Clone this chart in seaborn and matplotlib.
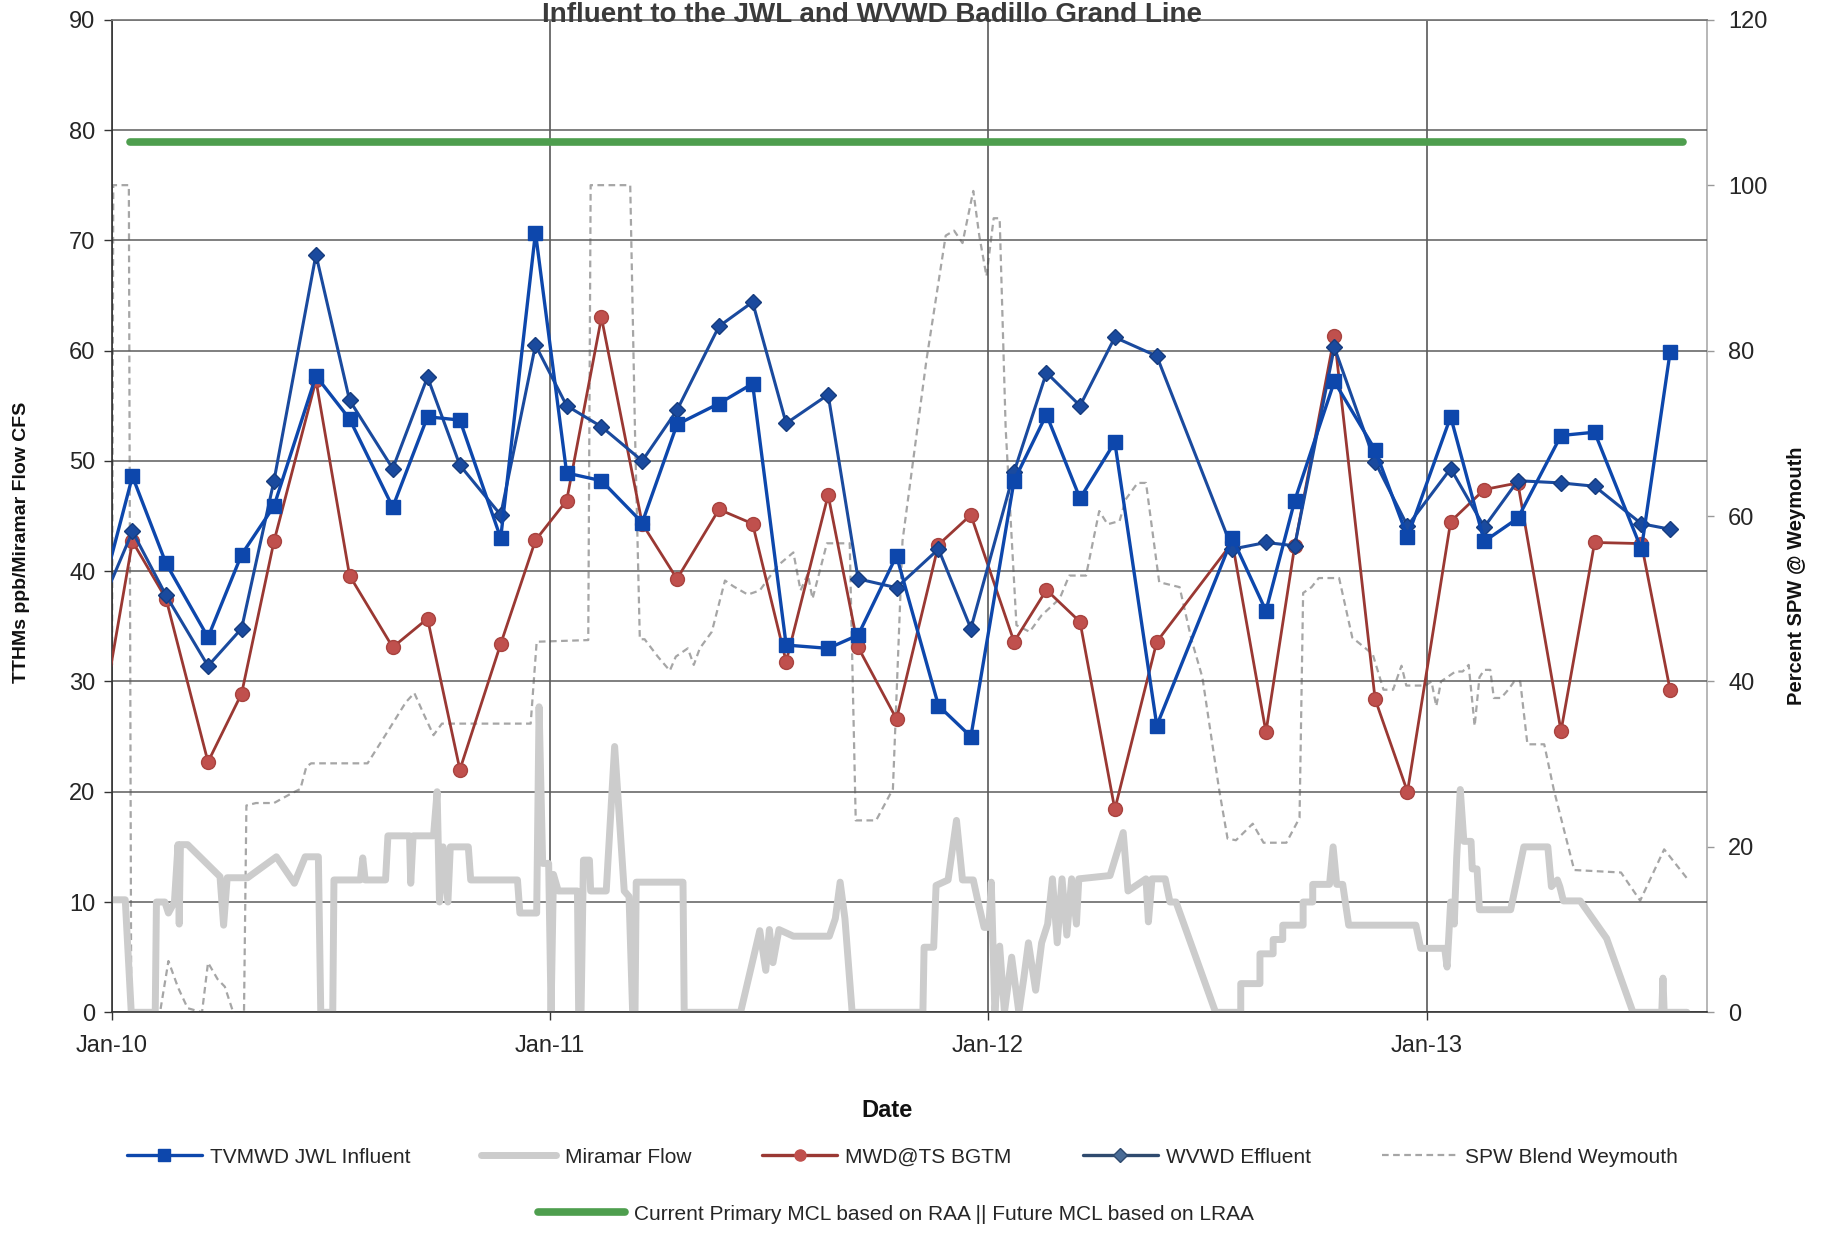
import numpy as np
import pandas as pd
import matplotlib
matplotlib.use("Agg")
import matplotlib.pyplot as plt
import matplotlib.dates as mdates
from matplotlib.lines import Line2D
import seaborn as sns

# ---------------- data ----------------
sample_dates = ["2009-12-17", "2010-01-18", "2010-02-15", "2010-03-22", "2010-04-19", "2010-05-16",
                "2010-06-20", "2010-07-18", "2010-08-23", "2010-09-21", "2010-10-18", "2010-11-21",
                "2010-12-20", "2011-01-15", "2011-02-13", "2011-03-19", "2011-04-17", "2011-05-22",
                "2011-06-19", "2011-07-17", "2011-08-21", "2011-09-15", "2011-10-17", "2011-11-21",
                "2011-12-18", "2012-01-23", "2012-02-19", "2012-03-18", "2012-04-16", "2012-05-21",
                "2012-07-23", "2012-08-20", "2012-09-13", "2012-10-16", "2012-11-19", "2012-12-16",
                "2013-01-21", "2013-02-18", "2013-03-18", "2013-04-23", "2013-05-21", "2013-06-29",
                "2013-07-23"]

tvmwd_jwl = [35.3, 48.6, 40.7, 34.0, 41.5, 45.9, 57.7, 53.8, 45.8, 54.0, 53.7, 43.0,
             70.7, 48.9, 48.2, 44.4, 53.3, 55.2, 57.0, 33.3, 33.0, 34.2, 41.4, 27.8,
             25.0, 48.2, 54.2, 46.6, 51.7, 26.0, 43.0, 36.4, 46.4, 57.2, 51.0, 43.1,
             54.0, 42.7, 44.8, 52.3, 52.6, 42.0, 59.9]

wvwd_eff = [35.4, 43.6, 37.8, 31.4, 34.8, 48.2, 68.7, 55.5, 49.3, 57.6, 49.6, 45.1,
            60.5, 55.0, 53.1, 50.0, 54.6, 62.2, 64.4, 53.4, 56.0, 39.3, 38.5, 42.0,
            34.8, 49.0, 58.0, 55.0, 61.2, 59.5, 42.0, 42.6, 42.3, 60.3, 49.9, 44.1,
            49.3, 44.0, 48.2, 48.0, 47.7, 44.3, 43.8]

mwd_ts = [22.6, 42.7, 37.5, 22.7, 28.9, 42.7, 57.3, 39.6, 33.1, 35.7, 22.0, 33.4,
          42.8, 46.4, 63.0, 44.3, 39.3, 45.6, 44.3, 31.8, 46.9, 33.1, 26.6, 42.4,
          45.1, 33.6, 38.3, 35.4, 18.4, 33.6, 42.6, 25.4, 42.3, 61.3, 28.4, 20.0,
          44.5, 47.4, 48.0, 25.5, 42.6, 42.5, 29.2]

# Miramar Flow (CFS): day offset from 2010-01-01 and value
miramar_day = [-20, 11, 16, 36, 37, 44, 47, 52, 55, 56, 57, 63, 90, 93, 96, 113, 137, 152, 161, 172,
               174, 184, 185, 207, 209, 211, 228, 230, 248, 249, 251, 268, 271, 273, 276, 280, 282, 297, 299, 338,
               340, 354, 356, 359, 364, 366, 368, 372, 388, 389, 391, 393, 398, 399, 412, 419, 427, 431, 434, 436,
               437, 476, 477, 524, 540, 545, 548, 551, 556, 568, 598, 603, 607, 611, 617, 676, 677, 685, 687, 697,
               704, 709, 718, 722, 727, 731, 733, 736, 740, 744, 750, 756, 760, 764, 770, 775, 780, 784, 788, 792,
               796, 800, 804, 806, 832, 843, 847, 862, 864, 867, 878, 882, 887, 920, 941, 941, 957, 957, 968, 968,
               976, 976, 993, 993, 1001, 1001, 1015, 1018, 1021, 1026, 1031, 1087, 1091, 1111, 1113, 1116, 1119, 1121, 1124, 1127,
               1133, 1134, 1138, 1140, 1166, 1177, 1197, 1200, 1205, 1207, 1210, 1224, 1246, 1268, 1292, 1293, 1294, 1313]
miramar_cfs = [10.2, 10.2, 0, 0, 10.0, 10.0, 9.0, 10.0, 15.2, 8.0, 15.2, 15.2, 12.3, 7.9, 12.2, 12.2, 14.1, 11.7, 14.1, 14.1,
               0, 0, 12.0, 12.0, 14.0, 12.0, 12.0, 16.0, 16.0, 11.7, 16.0, 16.0, 20.0, 10.0, 15.0, 10.0, 15.0, 15.0, 12.0, 12.0,
               9.0, 9.0, 27.7, 13.5, 13.5, 0, 12.5, 11.0, 11.0, 0, 0, 13.8, 13.8, 11.0, 11.0, 24.1, 11.0, 10.5, 0, 0,
               11.8, 11.8, 0, 0, 7.4, 3.8, 7.5, 4.5, 7.5, 6.9, 6.9, 8.5, 11.8, 8.5, 0, 0, 5.9, 5.9, 11.5, 12.0,
               17.4, 12.0, 12.0, 10.0, 7.7, 7.7, 11.8, 0, 6.0, 0, 5.0, 0, 3.0, 6.3, 2.0, 6.3, 8.0, 12.1, 6.3, 12.1,
               7.0, 12.1, 8.0, 12.1, 12.4, 16.3, 11.0, 12.1, 8.2, 12.1, 12.1, 10.0, 10.0, 0, 0, 2.6, 2.6, 5.3, 5.3, 6.6,
               6.6, 7.9, 7.9, 10.0, 10.0, 11.6, 11.6, 15.0, 11.6, 11.6, 7.9, 7.9, 5.8, 5.8, 4.1, 10.0, 8.0, 14.0, 20.2, 15.5,
               15.5, 13.0, 13.0, 9.3, 9.3, 15.0, 15.0, 11.4, 12.0, 11.4, 10.1, 10.1, 6.7, 0, 0, 3.1, 0, 0]

# SPW Blend Weymouth (percent, right axis)
spw_day = [-10, 0, 1, 14, 16, 40, 47, 55, 63, 75, 80, 88, 94, 101, 110, 112, 120, 135, 150, 157,
           162, 166, 213, 230, 245, 252, 260, 268, 275, 349, 354, 397, 399, 432, 436, 440, 444, 455, 465, 470,
           480, 485, 490, 500, 511, 518, 530, 540, 555, 568, 574, 580, 584, 596, 615, 620, 637, 651, 659, 679,
           695, 702, 709, 718, 723, 729, 735, 740, 745, 754, 765, 775, 790, 798, 812, 823, 830, 840, 845, 855,
           862, 873, 890, 900, 909, 923, 930, 937, 951, 960, 979, 990, 993, 1000, 1006, 1023, 1034, 1051, 1060, 1068,
           1075, 1079, 1095, 1100, 1104, 1108, 1120, 1126, 1131, 1136, 1140, 1144, 1149, 1152, 1158, 1164, 1169, 1174, 1180, 1194,
           1202, 1219, 1258, 1274, 1294, 1313]
spw_pct = [42, 42, 100, 100, 0, 0, 6.2, 3.0, 0.5, 0, 6.0, 4.0, 3.1, 0, 0, 25.0, 25.3, 25.3, 26.5, 27.0,
           29.7, 30.1, 30.1, 34.0, 37.5, 38.6, 36.0, 33.5, 34.9, 34.9, 44.8, 45.0, 100, 100, 70.0, 45.1, 45.1, 43.0, 41.3, 43.0,
           44.0, 42.0, 44.0, 46.0, 52.2, 51.5, 50.5, 51.0, 54.0, 55.6, 51.0, 53.0, 50.0, 56.7, 56.7, 23.2, 23.2, 27.0, 57.0, 78.9,
           93.9, 94.5, 93.0, 99.3, 93.9, 89.0, 96.0, 96.0, 70.6, 46.8, 46.0, 48.0, 50.0, 52.8, 52.8, 60.6, 59.0, 59.4, 62.0, 64.0,
           64.0, 52.0, 51.4, 45.0, 40.5, 26.9, 21.0, 20.8, 22.8, 20.5, 20.5, 23.5, 50.7, 51.4, 52.5, 52.5, 45.3, 43.3, 39.0, 39.0,
           41.9, 39.5, 39.5, 40.0, 37.0, 40.0, 41.2, 41.2, 42.0, 34.6, 40.5, 41.4, 41.4, 38.0, 38.0, 39.0, 40.0, 40.0, 32.4, 32.4,
           26.9, 17.2, 16.9, 13.5, 19.7, 16.2]

mcl_dates = ["2010-01-16", "2013-08-03"]
mcl_vals = [78.9, 78.9]

left_ticks = list(range(0, 91, 10))
right_ticks = list(range(0, 121, 20))
year_ticks = ["2010-01-01", "2011-01-01", "2012-01-01", "2013-01-01"]
year_labels = ["Jan-10", "Jan-11", "Jan-12", "Jan-13"]

title_text = "Influent to the JWL and WVWD Badillo Grand Line"
series_names = ["TVMWD JWL Influent", "Miramar Flow", "MWD@TS BGTM", "WVWD Effluent", "SPW Blend Weymouth"]
mcl_name = "Current Primary MCL based on RAA || Future MCL based on LRAA"

assert len(miramar_day) == len(miramar_cfs)
assert len(spw_day) == len(spw_pct)

# ---------------- frames ----------------
base = pd.Timestamp("2010-01-01")
samples = pd.DataFrame({"date": pd.to_datetime(sample_dates), "tvmwd": tvmwd_jwl,
                        "wvwd": wvwd_eff, "mwd": mwd_ts})
miramar = pd.DataFrame({"date": base + pd.to_timedelta(miramar_day, unit="D"), "cfs": miramar_cfs})
spw = pd.DataFrame({"date": base + pd.to_timedelta(spw_day, unit="D"), "pct": spw_pct})
mcl = pd.DataFrame({"date": pd.to_datetime(mcl_dates), "v": mcl_vals})

# ---------------- style ----------------
sns.set_theme(style="white")
plt.rcParams["font.family"] = ["Liberation Sans", "DejaVu Sans"]

BLUE = "#0D47AC"
DIAM = "#1A4A9E"
RED_LINE = "#9A3833"
RED_MK = "#C0504D"
GRAY_FLOW = "#cccccc"
GRAY_SPW = "#a6a6a6"
GREEN = "#4E9E4E"

fig = plt.figure(figsize=(18.28, 12.33), dpi=100)
ax = fig.add_axes([0.0613, 0.179, 0.8727, 0.805])
ax2 = ax.twinx()
ax.set_zorder(ax2.get_zorder() + 1)
ax.patch.set_visible(False)

# right axis series
sns.lineplot(data=spw, x="date", y="pct", ax=ax2, sort=False, estimator=None,
             color=GRAY_SPW, linewidth=1.6, linestyle=(0, (3, 2)), legend=False)

# left axis series
sns.lineplot(data=miramar, x="date", y="cfs", ax=ax, sort=False, estimator=None,
             color=GRAY_FLOW, linewidth=5, legend=False, zorder=2)
sns.lineplot(data=mcl, x="date", y="v", ax=ax, sort=False, estimator=None,
             color=GREEN, linewidth=5.5, legend=False, zorder=3)
sns.lineplot(data=samples, x="date", y="mwd", ax=ax, sort=False, estimator=None,
             color=RED_LINE, linewidth=2.0, marker="o", markersize=10,
             markerfacecolor=RED_MK, markeredgecolor="#a8433f", markeredgewidth=1, legend=False, zorder=4)
sns.lineplot(data=samples, x="date", y="wvwd", ax=ax, sort=False, estimator=None,
             color=DIAM, linewidth=2.2, marker="D", markersize=8.5,
             markerfacecolor=DIAM, markeredgecolor="#163c7e", markeredgewidth=1, legend=False, zorder=5)
sns.lineplot(data=samples, x="date", y="tvmwd", ax=ax, sort=False, estimator=None,
             color=BLUE, linewidth=2.4, marker="s", markersize=10,
             markerfacecolor=BLUE, markeredgecolor=BLUE, markeredgewidth=1, legend=False, zorder=6)

# axes limits / ticks
ax.set_xlim(pd.Timestamp("2010-01-01"), pd.Timestamp("2013-08-23"))
ax.set_ylim(0, 90)
ax2.set_ylim(0, 120)
ax.set_yticks(left_ticks)
ax2.set_yticks(right_ticks)
ax.set_xticks(pd.to_datetime(year_ticks))
ax.set_xticklabels(year_labels)
ax.set_xlabel("")
ax.set_ylabel("")
ax2.set_ylabel("")

ax.yaxis.grid(True, color="#5c5c5c", linewidth=1.1)
ax.xaxis.grid(True, color="#4a4a4a", linewidth=1.1)
ax2.grid(False)

ax.tick_params(axis="y", labelsize=17, length=6, width=1, color="#333333", direction="out", left=True, pad=6)
ax.tick_params(axis="x", labelsize=17, length=6, width=1, color="#333333", direction="out", bottom=True, pad=10)
ax2.tick_params(axis="y", labelsize=17, length=5, width=1, color="#999999", direction="out", right=True, pad=10)

for s in ["left", "bottom"]:
    ax.spines[s].set_color("#333333")
    ax.spines[s].set_linewidth(1.2)
ax.spines["top"].set_color("#777777")
ax.spines["right"].set_visible(False)
for s in ["left", "bottom", "top"]:
    ax2.spines[s].set_visible(False)
ax2.spines["right"].set_color("#aaaaaa")
ax2.spines["right"].set_linewidth(1.2)

# texts
fig.text(0.477, 0.982, title_text, ha="center", va="baseline", fontsize=20,
         fontweight="bold", color="#3a3a3a")
fig.text(0.0115, 0.560, "TTHMs ppb/Miramar Flow CFS", rotation=90, ha="center", va="center",
         fontsize=14, fontweight="bold", color="#111111")
fig.text(0.983, 0.533, "Percent SPW @ Weymouth", rotation=90, ha="center", va="center",
         fontsize=14.5, fontweight="bold", color="#111111")
fig.text(0.485, 0.0997, "Date", ha="center", va="center", fontsize=17, fontweight="bold", color="#111111")

# legend
h1 = [Line2D([], [], color=BLUE, lw=2.4, marker="s", ms=8, mfc=BLUE, mec=BLUE),
      Line2D([], [], color=GRAY_FLOW, lw=5),
      Line2D([], [], color=RED_LINE, lw=2.4, marker="o", ms=8, mfc=RED_MK, mec=RED_MK),
      Line2D([], [], color="#2f4a6e", lw=2.4, marker="D", ms=7, mfc="#4a6c96", mec="#2f4a6e"),
      Line2D([], [], color=GRAY_SPW, lw=1.6, linestyle=(0, (3, 2)))]
leg1 = fig.legend(h1, series_names, loc="center", bbox_to_anchor=(0.4936, 0.0616), ncol=5,
                  frameon=False, fontsize=15, handlelength=3.6, columnspacing=3.4, handletextpad=0.4)
h2 = [Line2D([], [], color=GREEN, lw=5.5)]
leg2 = fig.legend(h2, [mcl_name], loc="center", bbox_to_anchor=(0.49, 0.0154), frameon=False,
                  fontsize=15, handlelength=4.2, handletextpad=0.4)

fig.savefig("out.png", dpi=100)
